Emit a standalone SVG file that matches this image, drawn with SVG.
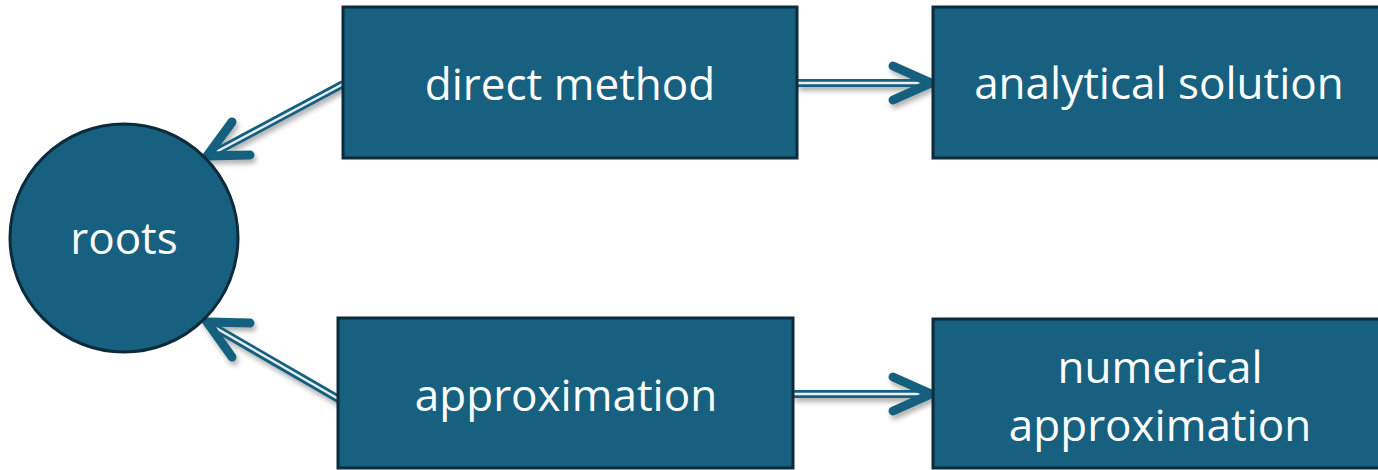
<svg xmlns="http://www.w3.org/2000/svg" width="1378" height="470" viewBox="0 0 1378 470">
<defs>
<filter id="sh" x="-20%" y="-20%" width="140%" height="160%">
<feDropShadow dx="2" dy="4" stdDeviation="2.5" flood-color="#000" flood-opacity="0.3"/>
</filter>
<style>
.box{fill:#18607f;stroke:#0c2b3b;stroke-width:3}
.t{fill:#fff;font-family:"Open Sans","Liberation Sans",sans-serif;font-size:44px;text-anchor:middle}
.outer{stroke:#18607f;stroke-width:8;fill:none}
.inner{stroke:#e8eef2;stroke-width:2.4;fill:none}
.head{stroke:#18607f;stroke-width:9;fill:none;stroke-linecap:round;stroke-linejoin:miter}
</style>
</defs>
<g id="connectors">
<g filter="url(#sh)">
<line class="outer" x1="343" y1="84" x2="214" y2="153"/>
<line class="inner" x1="343" y1="84" x2="216" y2="152"/>
<polyline class="head" points="232,122 207,156 250,155"/>
</g>
<g filter="url(#sh)">
<line class="outer" x1="342" y1="401" x2="214" y2="327"/>
<line class="inner" x1="342" y1="401" x2="216" y2="328"/>
<polyline class="head" points="250,323 207,322 232,357"/>
</g>
<g filter="url(#sh)">
<line class="outer" x1="797" y1="83" x2="924" y2="83"/>
<line class="inner" x1="797" y1="83" x2="922" y2="83"/>
<polyline class="head" points="893,66 931,83 893,100"/>
</g>
<g filter="url(#sh)">
<line class="outer" x1="793" y1="394" x2="924" y2="394"/>
<line class="inner" x1="793" y1="394" x2="922" y2="394"/>
<polyline class="head" points="893,377 931,394 893,411"/>
</g>
</g>
<g id="roots">
<circle class="box" cx="124" cy="238" r="114"/>
<text class="t" x="124" y="254">roots</text>
</g>
<g id="direct">
<rect class="box" x="343" y="7" width="454" height="151"/>
<text class="t" x="570" y="100">direct method</text>
</g>
<g id="analytical">
<rect class="box" x="933" y="7" width="454" height="151"/>
<text class="t" x="1159" y="99">analytical solution</text>
</g>
<g id="approximation">
<rect class="box" x="338" y="318" width="455" height="150"/>
<text class="t" x="566" y="411">approximation</text>
</g>
<g id="numerical">
<rect class="box" x="933" y="319" width="454" height="149"/>
<text class="t" x="1160" y="383">numerical</text>
<text class="t" x="1160" y="441">approximation</text>
</g>
</svg>
